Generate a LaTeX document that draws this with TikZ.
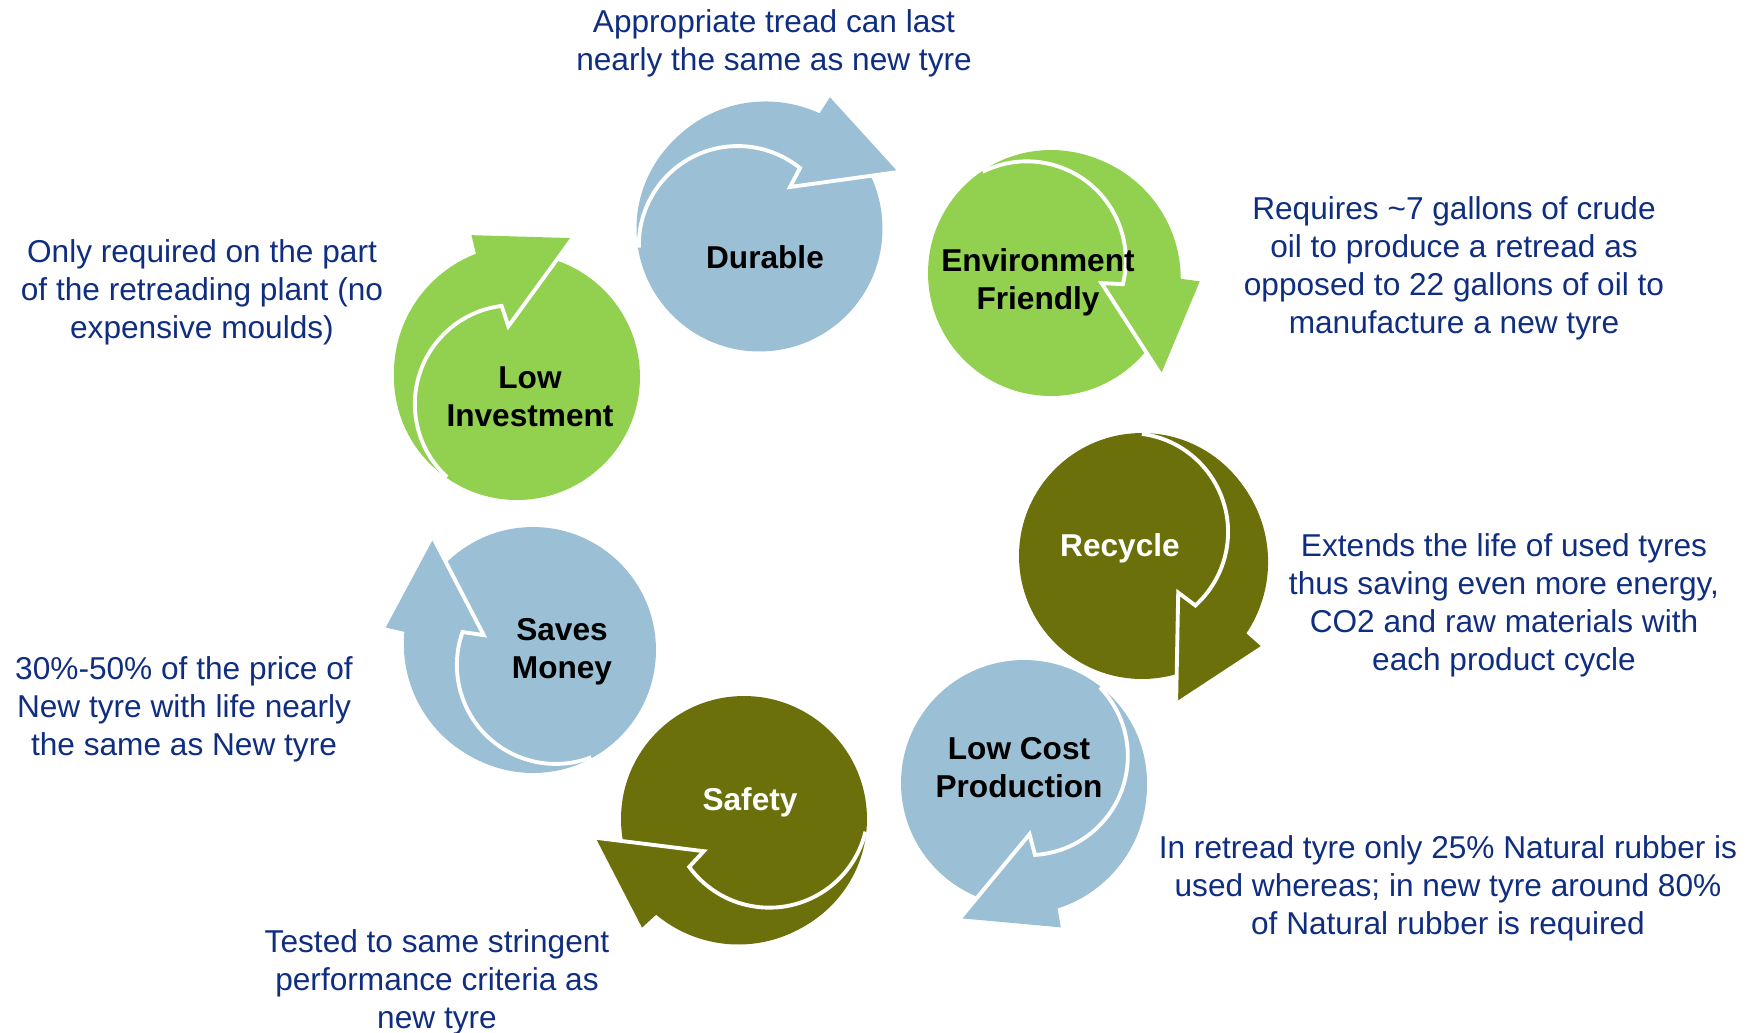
\documentclass[tikz,border=0pt]{standalone}
\usepackage{fontspec}
\setmainfont{Liberation Sans}
\usetikzlibrary{positioning}

\definecolor{tyreblue}{RGB}{155,191,212}
\definecolor{tyregreen}{RGB}{146,208,80}
\definecolor{tyreolive}{RGB}{107,112,10}
\definecolor{notenavy}{RGB}{16,46,128}

\tikzset{
    bubble/.style = {circle, minimum size=4.92cm, inner sep=0pt},
    title/.style  = {font=\fontsize{18}{21.7}\selectfont\bfseries, align=center},
    note/.style   = {font=\fontsize{18}{21.7}\selectfont, text=notenavy, align=center},
    cut/.style    = {draw=white, line width=2.2pt},
}

% curved arrow round a bubble: node, turn, colour
\newcommand{\turnarrow}[3]{%
    \begin{scope}[shift={(#1.center)}, rotate=-#2]
        \fill[#3] (-120.5,19.2) arc[start angle=171.8, end angle=294.9, radius=128]
            -- (70.4,-131.3) -- (138.5,-56.5) -- (30.5,-41.5) -- (40.5,-60.5)
            arc[start angle=309, end angle=178.4, radius=98.9] -- cycle;
        \draw[cut] (-120.6,19.2) arc[start angle=178.4, end angle=309, radius=98.9]
            -- (30.5,-41.5) -- (138.5,-56.5);
    \end{scope}}

\begin{document}
\begin{tikzpicture}[x=0.02cm, y=-0.02cm]
    \useasboundingbox (0,0) rectangle (1756,1032);

    \node[bubble, fill=tyreblue]  (durable)    at (759.5,228.5) {};
    \node[bubble, fill=tyregreen] (envfriend)  at (1051,273) {};
    \node[bubble, fill=tyreolive] (recycle)    at (1142,556) {};
    \node[bubble, fill=tyreblue]  (lowcost)    at (1024,783) {};
    \node[bubble, fill=tyreolive] (safety)     at (744,819) {};
    \node[bubble, fill=tyreblue]  (savesmoney) at (533,650) {};
    \node[bubble, fill=tyregreen] (lowinvest)  at (517,377) {};

    \turnarrow{durable}{0}{tyreblue}
    \turnarrow{envfriend}{65}{tyregreen}
    \turnarrow{recycle}{99}{tyreolive}
    \turnarrow{lowcost}{137.5}{tyreblue}
    \turnarrow{safety}{195}{tyreolive}
    \turnarrow{savesmoney}{250.5}{tyreblue}
    \turnarrow{lowinvest}{314}{tyregreen}

    \node[title] (durable-t)    at ([shift={(5.5,28.5)}]durable.center) {Durable};
    \node[title] (envfriend-t)  at ([shift={(-13,9)}]envfriend.center) {Environment\\Friendly};
    \node[title, text=white] (recycle-t) at ([shift={(-22,-8)}]recycle.center) {Recycle};
    \node[title] (lowcost-t)    at ([shift={(-5,-15)}]lowcost.center) {Low Cost\\Production};
    \node[title, text=white] (safety-t) at ([shift={(6,-17)}]safety.center) {Safety};
    \node[title] (savesmoney-t) at ([shift={(29,2)}]savesmoney.center) {Saves\\Money};
    \node[title] (lowinvest-t)  at ([shift={(13,20)}]lowinvest.center) {Low\\Investment};

    \node[note] (durable-n)    at (774,43.5) {Appropriate tread can last\\nearly the same as new tyre};
    \node[note] (envfriend-n)  at (1454,268.5) {Requires \textasciitilde7 gallons of crude\\oil to produce a retread as\\opposed to 22 gallons of oil to\\manufacture a new tyre};
    \node[note] (lowinvest-n)  at (202,292.5) {Only required on the part\\of the retreading plant (no\\expensive moulds)};
    \node[note] (recycle-n)    at (1504,605.5) {Extends the life of used tyres\\thus saving even more energy,\\CO2 and raw materials with\\each product cycle};
    \node[note] (savesmoney-n) at (184,709.5) {30\%-50\% of the price of\\New tyre with life nearly\\the same as New tyre};
    \node[note] (lowcost-n)    at (1448,888.5) {In retread tyre only 25\% Natural rubber is\\used whereas; in new tyre around 80\%\\of Natural rubber is required};
    \node[note] (safety-n)     at (437,982.5) {Tested to same stringent\\performance criteria as\\new tyre};
\end{tikzpicture}
\end{document}
